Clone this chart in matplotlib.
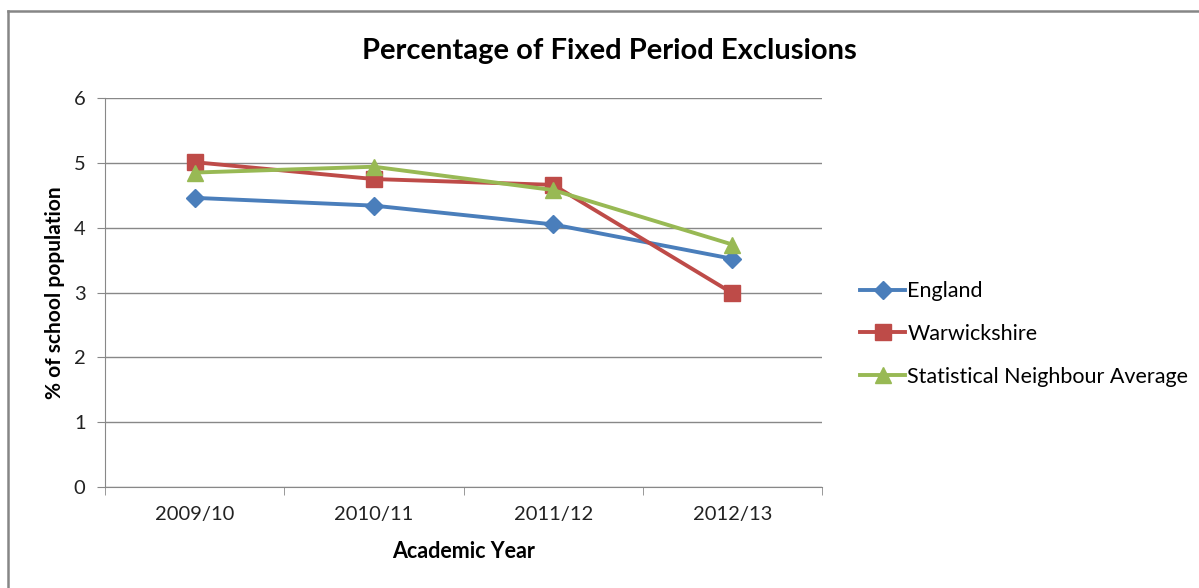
import matplotlib.pyplot as plt
from matplotlib.lines import Line2D

years = ["2009/10", "2010/11", "2011/12", "2012/13"]
england = [4.46, 4.34, 4.05, 3.52]
warwickshire = [5.01, 4.75, 4.66, 2.99]
neighbour_avg = [4.85, 4.94, 4.58, 3.74]

plt.rcParams['font.family'] = ['Lato', 'DejaVu Sans']

fig = plt.figure(figsize=(11.99, 5.88), dpi=100)
ax = fig.add_axes([105 / 1199, 1 - 487 / 588, 717 / 1199, 389 / 588])

x = list(range(len(years)))
ax.plot(x, england, color="#4A7EBB", lw=2.8, marker="D", ms=9, label="England")
ax.plot(x, warwickshire, color="#BE4B48", lw=2.8, marker="s", ms=11, label="Warwickshire")
ax.plot(x, neighbour_avg, color="#98B954", lw=2.8, marker="^", ms=12,
        label="Statistical Neighbour Average")

ax.set_xlim(-0.5, 3.5)
ax.set_ylim(0, 6)
ax.set_yticks(range(0, 7))
ax.set_xticks(x)
ax.set_xticklabels(years)
ax.set_xticks([i - 0.5 for i in range(len(years) + 1)], minor=True)
ax.tick_params(axis="x", which="major", length=0, pad=14, labelsize=14.5, colors="#222222")
ax.tick_params(axis="x", which="minor", length=6, color="#888888", direction="out")
ax.tick_params(axis="y", length=6, color="#888888", pad=8, labelsize=14.5, labelcolor="#222222")
ax.grid(axis="y", color="#888888", lw=1)
ax.set_axisbelow(True)
for side in ("top", "right"):
    ax.spines[side].set_visible(False)
for side in ("left", "bottom"):
    ax.spines[side].set_color("#888888")

ax.set_ylabel("% of school population", fontsize=15, fontweight="bold", labelpad=6)
ax.set_xlabel("Academic Year", fontsize=15.5, fontweight="bold", labelpad=13)
fig.text(609 / 1199, 1 - 51 / 588, "Percentage of Fixed Period Exclusions",
         fontsize=21, fontweight="bold", ha="center", va="center")

ax.legend(loc="center left", bbox_to_anchor=(860 / 1199, 1 - 334 / 588),
          bbox_transform=fig.transFigure, frameon=False,
          fontsize=15.5, handlelength=2.1, handletextpad=0.1, labelspacing=1.05,
          borderaxespad=0, borderpad=0)

# chart frame (only top and left edges fall inside the picture)
fig.add_artist(Line2D([8 / 1199, 8 / 1199], [0, 1 - 11 / 588], transform=fig.transFigure,
                      color="#868686", lw=1.8))
fig.add_artist(Line2D([8 / 1199, 1], [1 - 11 / 588, 1 - 11 / 588], transform=fig.transFigure,
                      color="#868686", lw=1.8))

fig.savefig("out.png", dpi=100)
